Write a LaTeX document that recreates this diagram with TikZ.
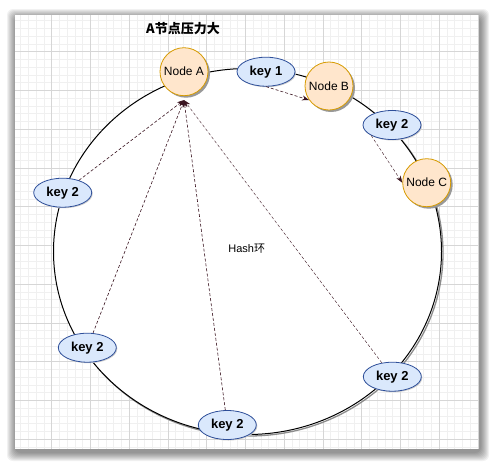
\documentclass[tikz,border=0pt]{standalone}
\usepackage{fontspec}
\setmainfont{Liberation Sans}
\newfontfamily\cjk{Noto Sans CJK SC}
\usetikzlibrary{shapes.geometric,arrows.meta,shadows}
\definecolor{gridmin}{HTML}{F0F0F0}
\definecolor{gridmaj}{HTML}{D6D6D6}
\definecolor{nodefill}{HTML}{FFE6CC}
\definecolor{nodeline}{HTML}{D79B00}
\definecolor{keyfill}{HTML}{DAE8FC}
\definecolor{keyline}{HTML}{2E4F9A}
\definecolor{arr}{HTML}{3A1420}
\begin{document}
\begin{tikzpicture}[x=1pt,y=-1pt,
  server/.style={circle,draw=nodeline,fill=nodefill,line width=0.8pt,minimum size=48pt,inner sep=0pt,
    font=\fontsize{12}{13}\selectfont,
    drop shadow={shadow xshift=2pt,shadow yshift=-2pt,fill=black!40,opacity=1}},
  keynode/.style={ellipse,draw=keyline,fill=keyfill,line width=0.8pt,minimum width=58pt,minimum height=29pt,
    inner sep=0pt,font=\bfseries\fontsize{13}{14}\selectfont,
    drop shadow={shadow xshift=1pt,shadow yshift=-1pt,fill=black!20,opacity=1}},
  link/.style={draw=arr,dash pattern=on 3pt off 2pt,line width=0.6pt,-{Stealth[length=7pt,width=5pt]}},
  thinlink/.style={link,line width=0.4pt},
]
\useasboundingbox (0,0) rectangle (494,464);
\fill[white] (0,0) rectangle (494,464);
% panel shadow
\foreach \i in {9,...,1}{
  \fill[black,opacity=0.055,rounded corners=6pt] ({15-\i+1},{15-\i+3}) rectangle ({479+\i+1},{449+\i+3});
}
\fill[white] (15,15) rectangle (479,449);
\begin{scope}
  \clip (15,15) rectangle (479,449);
  \foreach \i in {0,...,62}{
    \draw[gridmin,line width=0.5pt] ({12.9+\i*7.75},15) -- ({12.9+\i*7.75},449);
    \draw[gridmin,line width=0.5pt] (15,{12.9+\i*7.75}) -- (479,{12.9+\i*7.75});
  }
  \foreach \i in {0,...,12}{
    \draw[gridmaj,line width=0.7pt] ({12.9+\i*38.75},15) -- ({12.9+\i*38.75},449);
    \draw[gridmaj,line width=0.7pt] (15,{12.9+\i*38.75}) -- (479,{12.9+\i*38.75});
  }
\end{scope}
% ring
\draw[black!45,line width=1.3pt] (249,253) ellipse [x radius=194, y radius=183];
\node[ellipse,draw=black,fill=white,line width=1pt,minimum width=388pt,minimum height=366pt,inner sep=0pt] (ring) at (247.5,251.5) {};
\node[font=\fontsize{11}{13}\selectfont] (hash) at (246.7,249) {Hash{\cjk 环}};
\node[font=\cjk\bfseries\fontsize{13}{15}\selectfont] (title) at (183,29) {A节点压力大};
% servers
\node[server] (nA) at (184,71.7) {Node A};
\node[server] (nB) at (329,86) {Node B};
\node[server] (nC) at (426.7,182.7) {Node C};
% keys
\node[keynode] (k1) at (266,71.7) {key 1};
\node[keynode] (kR) at (392,125) {key 2};
\node[keynode] (kL) at (62.7,192.7) {key 2};
\node[keynode] (kLL) at (87.3,347.7) {key 2};
\node[keynode] (kB) at (227.3,425) {key 2};
\node[keynode] (kLR) at (392.3,376.7) {key 2};
% connectors
\draw[link] (k1.south) -- (nB.215);
\draw[thinlink] (kR.south west) -- (nC.west);
\draw[link] (kL) -- ([yshift=-4pt]nA.south);
\draw[link] (kLL) -- ([yshift=-4pt]nA.south);
\draw[link] (kB) -- ([yshift=-4pt]nA.south);
\draw[thinlink] (kLR) -- ([yshift=-4pt]nA.south);
\end{tikzpicture}
\end{document}
